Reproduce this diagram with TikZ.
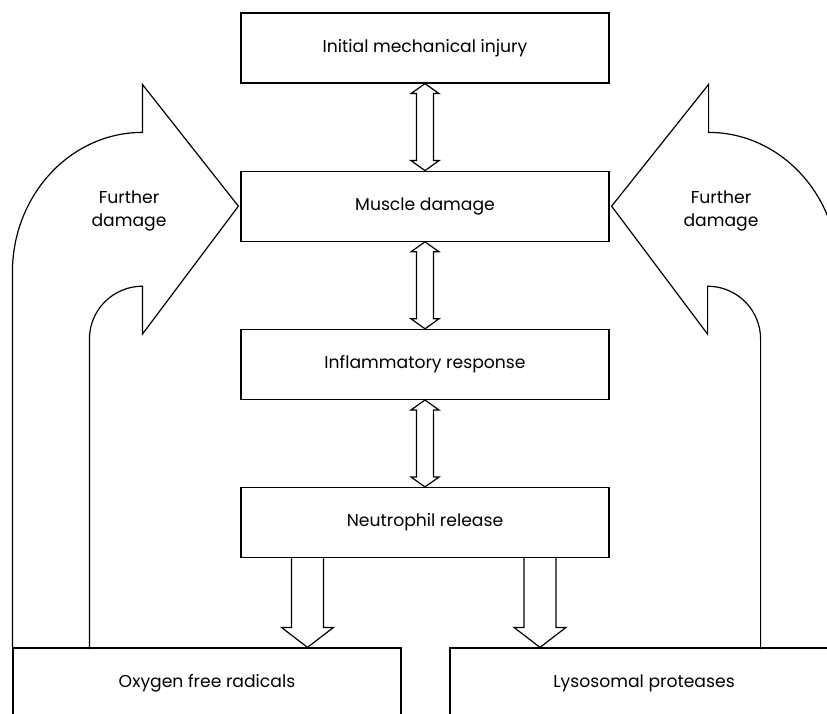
\documentclass[tikz,border=0pt]{standalone}
\usepackage{fontspec}
\setmainfont{Poppins}
\usetikzlibrary{positioning,calc}

\tikzset{
  stage/.style={draw, line width=1.2pt, minimum width=368pt, minimum height=70pt, inner sep=0pt},
  sink/.style={stage, minimum width=388pt},
  outline/.style={line width=1.2pt, line join=miter}
}
% hollow double arrow from the bottom of #1 to the top of #2
\newcommand{\twoway}[2]{%
  \draw[outline] (#1.south) -- ++(-14,-10) -- ++(5.5,0) -- ($(#2.north)+(-8.5,10)$) -- ++(-5.5,0)
    -- (#2.north) -- ++(14,10) -- ++(-5.5,0) -- ($(#1.south)+(8.5,-10)$) -- ++(5.5,0) -- cycle;}
% hollow down arrow from #1 to #2
\newcommand{\oneway}[2]{%
  \draw[outline] ([xshift=-16]#1) -- ([xshift=-16,yshift=20]#2) -- ([xshift=-26,yshift=20]#2) -- (#2)
    -- ([xshift=26,yshift=20]#2) -- ([xshift=16,yshift=20]#2) -- ([xshift=16]#1);}

\begin{document}
\begin{tikzpicture}[x=1pt,y=1pt,font=\fontsize{17.2}{23}\selectfont]
  \fill[white] (0,0) rectangle (827,713);
  \useasboundingbox (0,0) rectangle (827,713);
  \clip (0,0) rectangle (827,713);

  \node[stage] (injury) at (425,665) {Initial mechanical injury};
  \node[stage, below=87pt of injury] (muscle) {Muscle damage};
  \node[stage, below=87pt of muscle] (inflam) {Inflammatory response};
  \node[stage, below=87pt of inflam] (neutro) {Neutrophil release};
  \node[sink] (oxygen) at (207,30) {Oxygen free radicals};
  \node[sink] (lyso) at (644,30) {Lysosomal proteases};

  \twoway{injury}{muscle}
  \twoway{muscle}{inflam}
  \twoway{inflam}{neutro}

  \coordinate (lsrc) at ($(neutro.south)+(-117.5,0)$);
  \coordinate (rsrc) at ($(neutro.south)+(115,0)$);
  \coordinate (ltip) at (lsrc |- oxygen.north);
  \coordinate (rtip) at (rsrc |- lyso.north);
  \oneway{lsrc}{ltip}
  \oneway{rsrc}{rtip}

  % further damage, left
  \draw[outline] (oxygen.north west) -- ++(0,375)
    arc[start angle=180, end angle=90, x radius=130, y radius=140] -- ++(0,48)
    -- ([xshift=-2]muscle.west) -- ++(-96,-128) -- ++(0,48)
    arc[start angle=90, end angle=180, radius=53] -- ++(0,-310);
  % further damage, right
  \draw[outline] (lyso.north east) -- ++(0,375)
    arc[start angle=0, end angle=90, x radius=130, y radius=140] -- ++(0,48)
    -- ([xshift=2]muscle.east) -- ++(96,-128) -- ++(0,48)
    arc[start angle=90, end angle=0, radius=53] -- ++(0,-310);

  \node[align=center] (lfurther) at (129,502) {Further\\damage};
  \node[align=center] (rfurther) at (721,502) {Further\\damage};
\end{tikzpicture}
\end{document}
